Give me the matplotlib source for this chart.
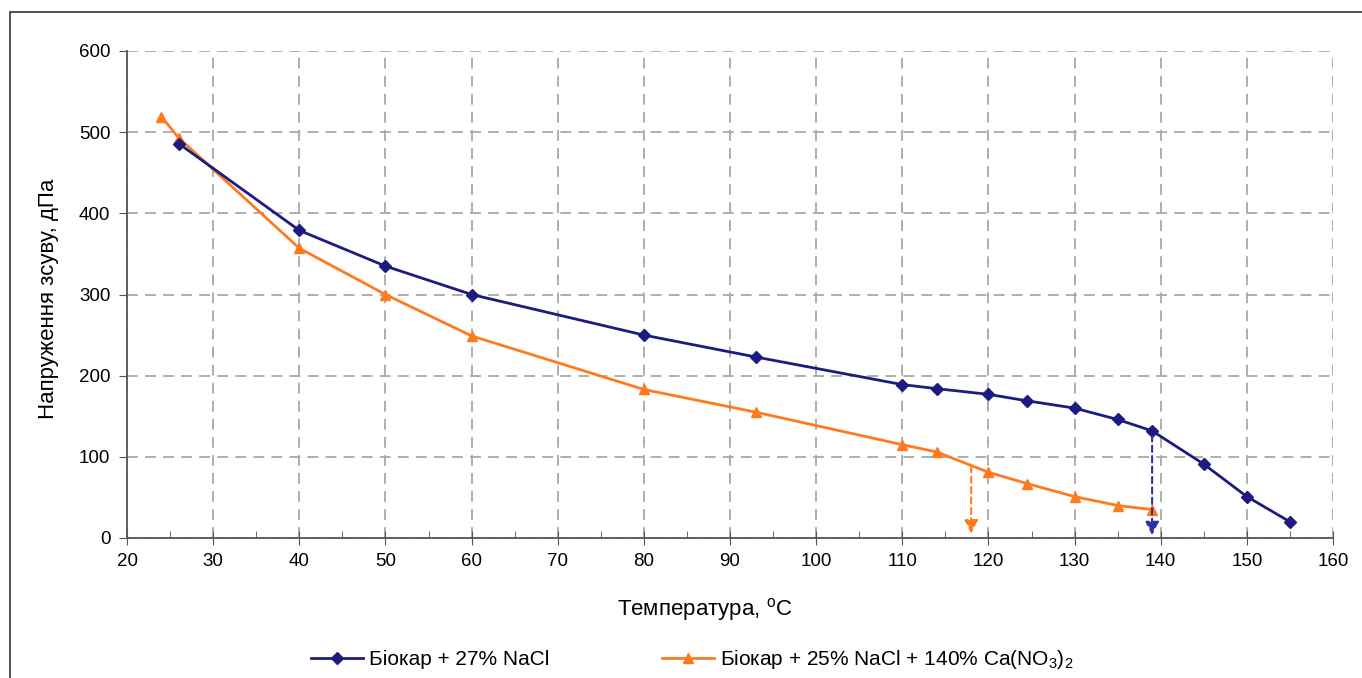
import matplotlib
matplotlib.use("Agg")
import matplotlib.pyplot as plt
from matplotlib.patches import Rectangle
from matplotlib.ticker import MultipleLocator

plt.rcParams['font.family'] = ['Liberation Sans', 'DejaVu Sans']
plt.rcParams['mathtext.fontset'] = 'custom'
plt.rcParams['mathtext.rm'] = 'Liberation Sans'
plt.rcParams['mathtext.it'] = 'Liberation Sans:italic'

# Data
temp_a = [26, 40, 50, 60, 80, 93, 110, 114, 120, 124.5, 130, 135, 139, 145, 150, 155]
stress_a = [486, 379, 335, 300, 250, 223, 189, 184, 177, 169, 160, 146, 132, 91, 51, 20]
temp_b = [24, 26, 40, 50, 60, 80, 93, 110, 114, 120, 124.5, 130, 135, 139]
stress_b = [519, 493, 357, 300, 249, 183, 155, 115, 106, 81, 67, 51, 40, 35]
label_a = "Біокар + 27% NaCl"
label_b = "Біокар + 25% NaCl + 140% Ca(NO$_3$)$_2$"
arrow_b = (118, 92)
arrow_a = (139, 130)

blue = "#1C1C80"
orange = "#FF7A1E"

fig = plt.figure(figsize=(13.62, 6.78), dpi=100)
W, H = 1362, 678
ax = fig.add_axes([127 / W, 1 - 538 / H, (1333 - 127) / W, (538 - 51) / H])

fig.patches.append(Rectangle((10 / W, -0.05), 1.2, 1 - 12 / H + 0.05, transform=fig.transFigure,
                             fill=False, edgecolor="#333333", linewidth=1.2))

ax.plot(temp_a, stress_a, color=blue, lw=2, marker="D", ms=6, label=label_a, zorder=4)
ax.plot(temp_b, stress_b, color=orange, lw=2, marker="^", ms=7, label=label_b, zorder=3)

ax.annotate("", xy=(arrow_b[0], 2), xytext=arrow_b,
            arrowprops=dict(arrowstyle="-|>", linestyle=(0, (3, 2)), color=orange, lw=1.5,
                            mutation_scale=20), zorder=5)
ax.annotate("", xy=(arrow_a[0], 0), xytext=arrow_a,
            arrowprops=dict(arrowstyle="-|>", linestyle=(0, (3, 2)), color="#3030A8", lw=1.5,
                            mutation_scale=20), zorder=5)

ax.set_xlim(20, 160)
ax.set_ylim(0, 600)
ax.xaxis.set_major_locator(MultipleLocator(10))
ax.xaxis.set_minor_locator(MultipleLocator(5))
ax.yaxis.set_major_locator(MultipleLocator(100))
ax.grid(True, which="major", color="#A8A8A8", linestyle=(0, (6, 4)), linewidth=1.3)
ax.set_axisbelow(True)
for s in ["top", "right"]:
    ax.spines[s].set_visible(False)
for s in ["left", "bottom"]:
    ax.spines[s].set_color("#555555")
    ax.spines[s].set_linewidth(1.3)
ax.tick_params(axis="both", which="major", length=6, color="#555555",
               labelsize=13.5, pad=6)
ax.tick_params(axis="y", which="major", direction="out")
ax.tick_params(axis="x", which="major", direction="inout", length=10)
ax.tick_params(axis="x", which="minor", direction="in", length=5, color="#555555")

ax.set_xlabel("Температура, $^{\\mathrm{o}}$C", fontsize=16)
ax.set_ylabel("Напруження зсуву, дПа", fontsize=16)
ax.xaxis.set_label_coords((705 - 127) / (1333 - 127), -(596 - 538) / (538 - 51))
ax.yaxis.set_label_coords(-(127 - 59) / (1333 - 127), (538 - 299) / (538 - 51))

handles, labels = ax.get_legend_handles_labels()
fig.legend(handles, labels, loc="center", bbox_to_anchor=(692 / W, 1 - 659 / H), ncol=2,
           frameon=False, fontsize=15, handlelength=2.5, columnspacing=5.4, handletextpad=0.3)

fig.savefig("out.png", dpi=100, facecolor="white")
